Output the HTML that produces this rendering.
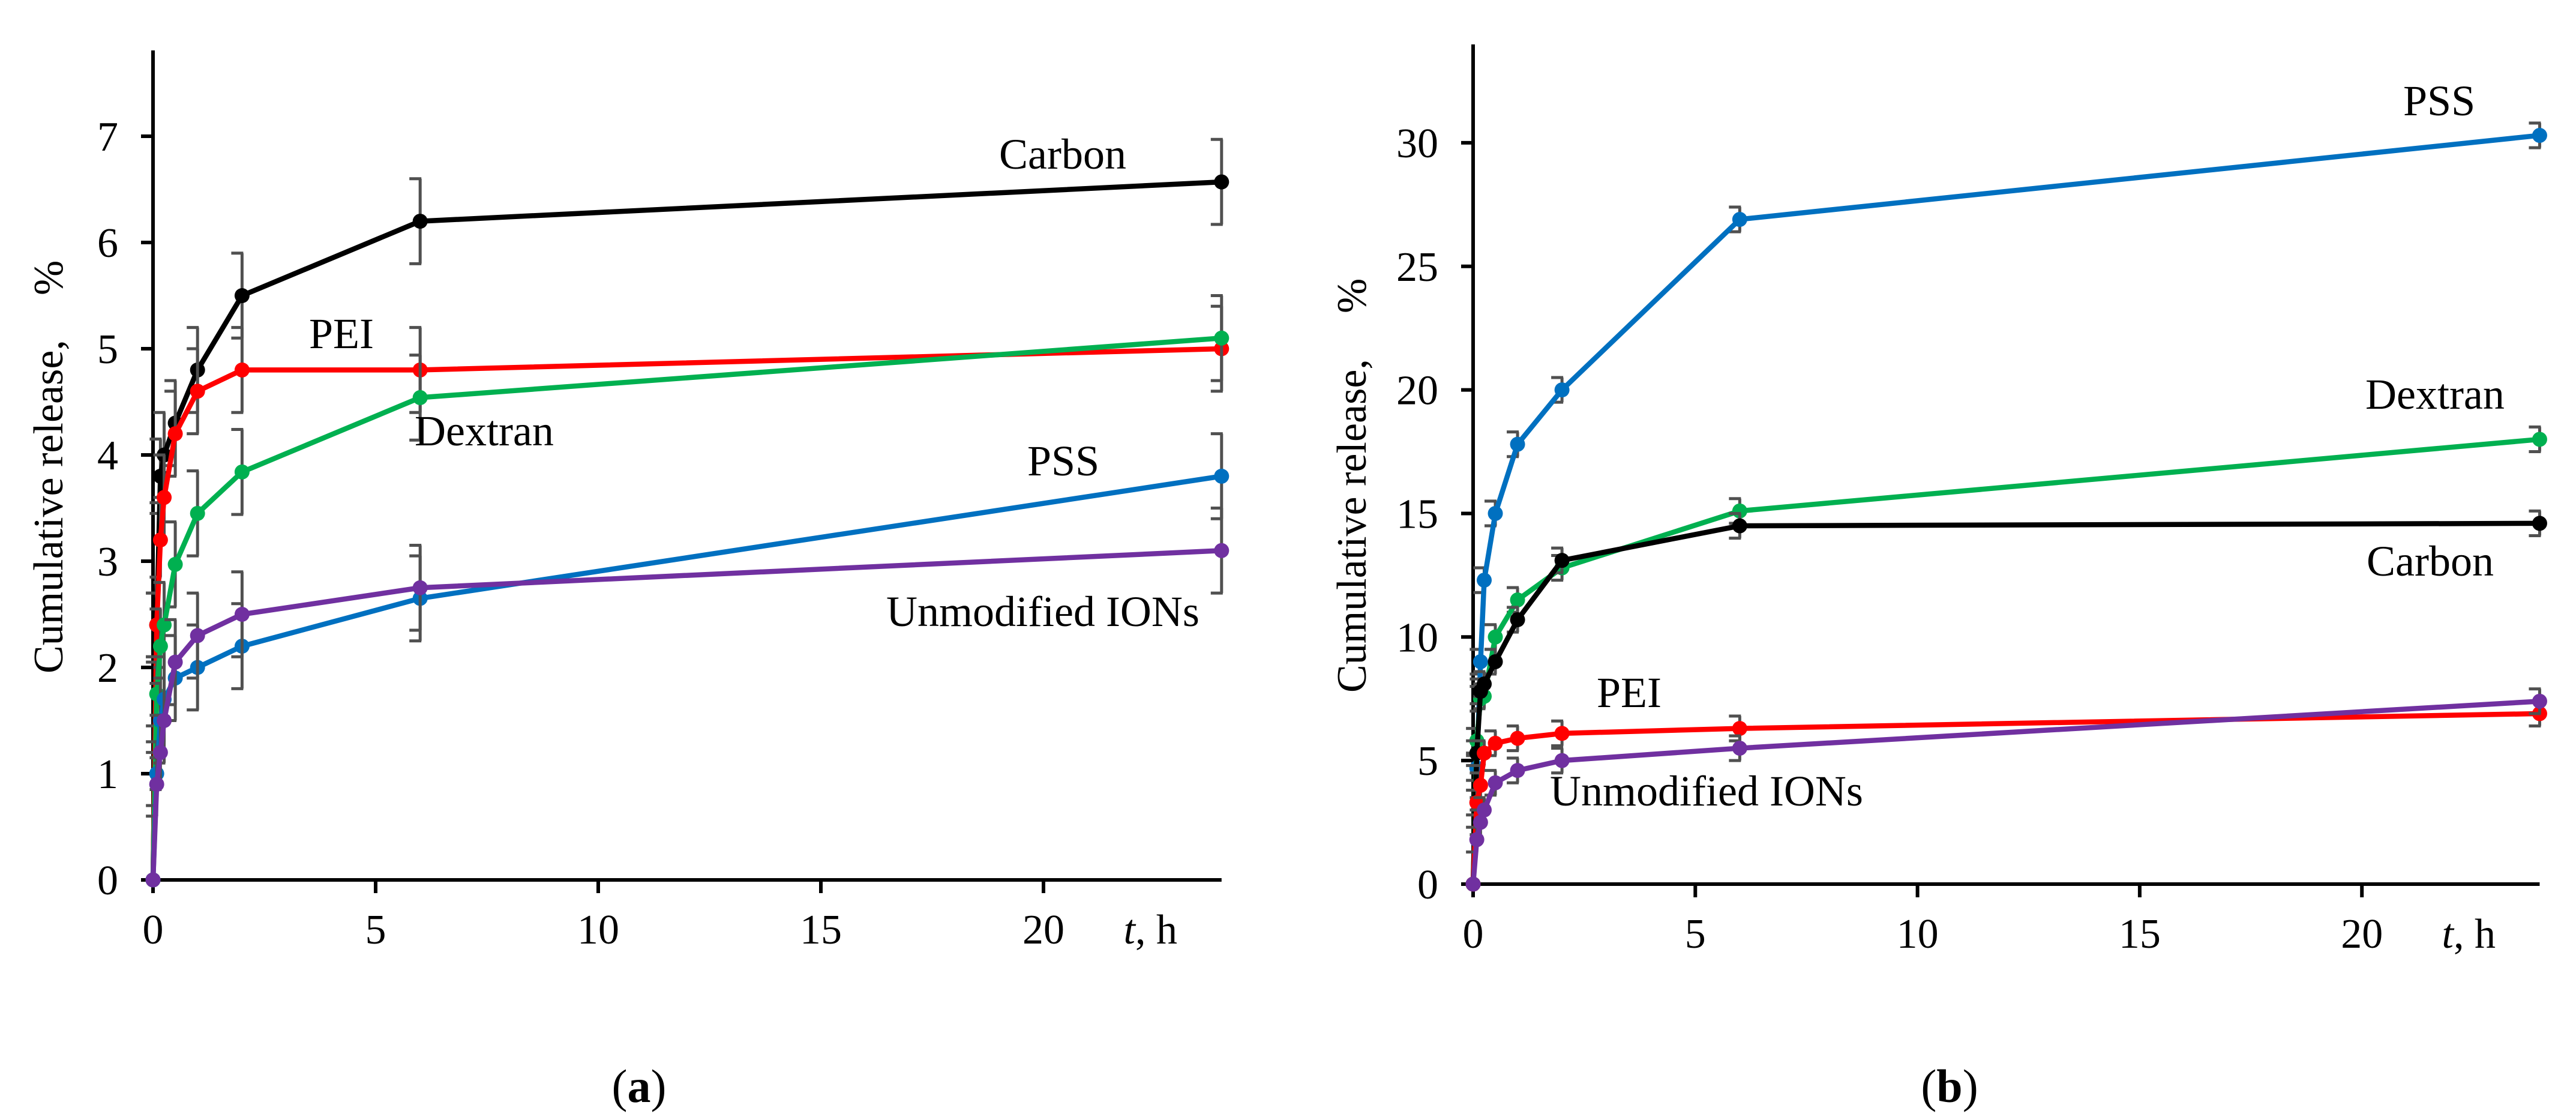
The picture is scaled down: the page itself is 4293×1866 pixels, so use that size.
<!DOCTYPE html>
<html><head><meta charset="utf-8">
<style>
html,body{margin:0;padding:0;background:#fff;}
svg{display:block;}
text{font-family:"Liberation Serif",serif;fill:#000;}
</style></head>
<body>
<svg id="fig" width="4293" height="1866" viewBox="0 0 4293 1866" xmlns="http://www.w3.org/2000/svg">
<rect width="4293" height="1866" fill="#fff"/>
</svg>
<script>
// shared time points (h)
const times = [0, 0.083, 0.167, 0.25, 0.5, 1, 2, 6, 24];
const xTicks = [0, 5, 10, 15, 20];
// panel a
const aTicksY = [0, 1, 2, 3, 4, 5, 6, 7];
const aCarbon = [0, 2.4, 3.8, 4.0, 4.3, 4.8, 5.5, 6.2, 6.57];
const aPEI = [0, 2.4, 3.2, 3.6, 4.2, 4.6, 4.8, 4.8, 5.0];
const aDextran = [0, 1.75, 2.2, 2.4, 2.97, 3.45, 3.84, 4.54, 5.1];
const aPSS = [0, 1.0, 1.5, 1.7, 1.9, 2.0, 2.2, 2.65, 3.8];
const aUnmod = [0, 0.9, 1.2, 1.5, 2.05, 2.3, 2.5, 2.75, 3.1];
const aErr = [0, 0.3, 0.35, 0.4, 0.4, 0.4, 0.4, 0.4, 0.4];
// panel b
const bTicksY = [0, 5, 10, 15, 20, 25, 30];
const bPSS = [0, 4.7, 9.0, 12.3, 15.0, 17.8, 20.0, 26.9, 30.3];
const bDextran = [0, 5.8, 7.5, 7.6, 10.0, 11.5, 12.8, 15.1, 18.0];
const bCarbon = [0, 5.3, 7.8, 8.1, 9.0, 10.7, 13.1, 14.5, 14.6];
const bPEI = [0, 3.3, 4.0, 5.3, 5.7, 5.9, 6.1, 6.3, 6.9];
const bUnmod = [0, 1.8, 2.5, 3.0, 4.1, 4.6, 5.0, 5.5, 7.4];
const bErr = [0, 0.5, 0.5, 0.5, 0.5, 0.5, 0.5, 0.5, 0.5];

const NS = "http://www.w3.org/2000/svg";
const svg = document.getElementById('fig');
function mk(tag, attrs, parent) {
  const e = document.createElementNS(NS, tag);
  for (const k in attrs) e.setAttribute(k, attrs[k]);
  (parent || svg).appendChild(e);
  return e;
}

function panel(cfg) {
  const g = mk('g', {});
  
  
  const X = t => cfg.x0 + t * cfg.px;
  const Y = v => cfg.y0 - v * cfg.py;
  const ya = mk('line', {x1: cfg.x0, y1: cfg.top, x2: cfg.x0, y2: cfg.y0 + 3, stroke: '#000', 'stroke-width': 6}, g);
  
  
  const xa = mk('line', {x1: cfg.x0 - 3, y1: cfg.y0, x2: X(24), y2: cfg.y0, stroke: '#000', 'stroke-width': 6}, g);
  
  
  cfg.yTicks.forEach(v => {
    mk('line', {x1: cfg.x0 - 20, y1: Y(v), x2: cfg.x0, y2: Y(v), stroke: '#000', 'stroke-width': 6}, g);
    const t = mk('text', {x: cfg.x0 - 58, y: Y(v) + 24, 'text-anchor': 'end', 'font-size': 70}, g);
    t.textContent = v;
    
    
  });
  xTicks.forEach(v => {
    mk('line', {x1: X(v), y1: cfg.y0, x2: X(v), y2: cfg.y0 + 22, stroke: '#000', 'stroke-width': 6}, g);
    const t = mk('text', {x: X(v), y: cfg.y0 + 106, 'text-anchor': 'middle', 'font-size': 70}, g);
    t.textContent = v;
    
    
  });
  const xt = mk('text', {x: X(21.8), y: cfg.y0 + 106, 'font-size': 70}, g);
  xt.innerHTML = '<tspan font-style="italic">t</tspan>, h';
  
  
  const yt = mk('text', {x: 0, y: 0, 'font-size': 70, transform: `translate(${cfg.ytx},${cfg.ytBottom}) rotate(-90)`}, g);
  yt.textContent = 'Cumulative release,';
  
  
  const yp = mk('text', {x: 0, y: 0, 'font-size': 70, transform: `translate(${cfg.ytx},${cfg.pctBottom}) rotate(-90)`}, g);
  yp.textContent = '%';
  
  
  cfg.series.forEach(s => {
    const sg = mk('g', {}, g);
    
    
    s.vals.forEach((v, i) => {
      const e = cfg.err[i];
      if (e > 0) {
        const xx = X(times[i]);
        const eb = mk('path', {d: `M${xx},${Y(v + e)}V${Y(v - e)}M${xx - 18},${Y(v + e)}H${xx + 2}M${xx - 18},${Y(v - e)}H${xx + 2}`, stroke: '#505050', 'stroke-width': 5, fill: 'none'}, sg);
        
        
      }
    });
    const pts = s.vals.map((v, i) => X(times[i]) + ',' + Y(v)).join(' ');
    const pl = mk('polyline', {points: pts, fill: 'none', stroke: s.color, 'stroke-width': 8.5, 'stroke-linejoin': 'round'}, sg);
    
    
    s.vals.forEach((v, i) => {
      const c = mk('circle', {cx: X(times[i]), cy: Y(v), r: 12.5, fill: s.color}, sg);
      
      
    });
  });
  cfg.labels.forEach(l => {
    const t = mk('text', {x: l[1], y: l[2], 'font-size': 72}, g);
    t.textContent = l[0];
    
    
  });
  const cap = mk('text', {x: cfg.capX, y: 1836, 'text-anchor': 'middle', 'font-size': 78}, g);
  cap.innerHTML = '(<tspan font-weight="bold">' + cfg.cap + '</tspan>)';
  
  
}

panel({
  name: 'chart-a', x0: 255, px: 74.2, y0: 1466, py: 177, top: 84,
  yTicks: aTicksY, err: aErr, ytx: 104, ytBottom: 1122, pctBottom: 492, capX: 1065, cap: 'a',
  series: [
    {id: 'carbon', color: '#000000', vals: aCarbon},
    {id: 'pei', color: '#ff0000', vals: aPEI},
    {id: 'dextran', color: '#00b050', vals: aDextran},
    {id: 'pss', color: '#0070c0', vals: aPSS},
    {id: 'unmodified', color: '#7030a0', vals: aUnmod}
  ],
  labels: [['Carbon', 1665, 281], ['PEI', 515, 580], ['Dextran', 691, 742], ['PSS', 1712, 792], ['Unmodified IONs', 1477, 1043]]
});
panel({
  name: 'chart-b', x0: 2455, px: 74.06, y0: 1473, py: 41.17, top: 74,
  yTicks: bTicksY, err: bErr, ytx: 2276, ytBottom: 1154, pctBottom: 522, capX: 3249, cap: 'b',
  series: [
    {id: 'pss', color: '#0070c0', vals: bPSS},
    {id: 'dextran', color: '#00b050', vals: bDextran},
    {id: 'carbon', color: '#000000', vals: bCarbon},
    {id: 'pei', color: '#ff0000', vals: bPEI},
    {id: 'unmodified', color: '#7030a0', vals: bUnmod}
  ],
  labels: [['PSS', 4005, 192], ['Dextran', 3942, 681], ['Carbon', 3944, 959], ['PEI', 2661, 1178], ['Unmodified IONs', 2583, 1342]]
});
</script>
</body></html>
